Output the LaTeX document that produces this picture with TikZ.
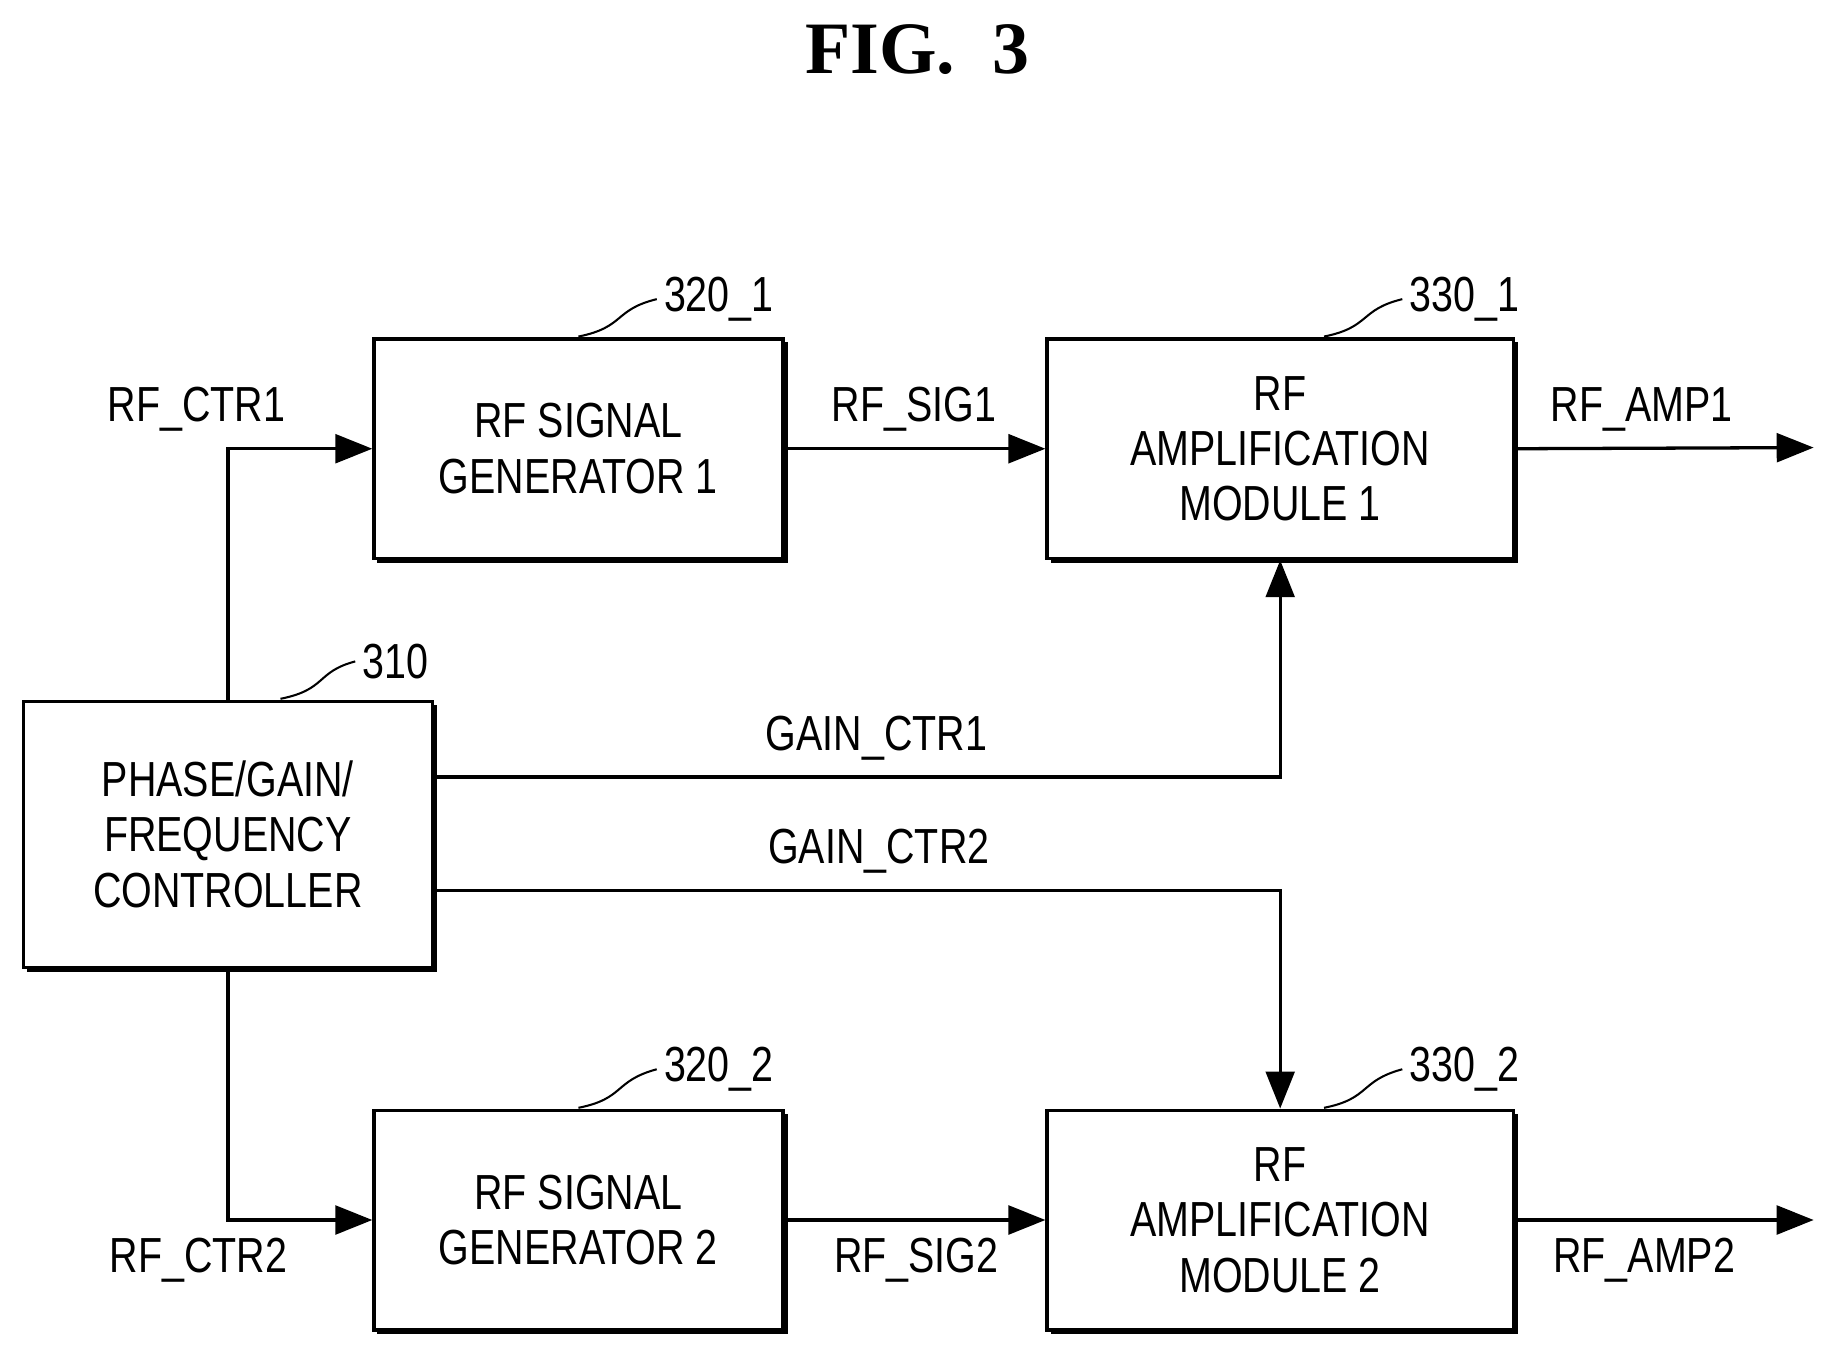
\documentclass[tikz,border=0pt]{standalone}
\usepackage{fontspec}
\setmainfont{Liberation Sans}[FakeStretch=0.8]
\newfontfamily\titlefont{Liberation Serif}
\usetikzlibrary{arrows.meta}
\begin{document}
\begin{tikzpicture}[x=0.02cm,y=-0.02cm,
  box/.style={draw,line width=1.6pt,align=center,inner sep=0,font=\fontsize{24}{27}\selectfont},
  lbl/.style={font=\fontsize{24}{28}\selectfont},
  ln/.style={line width=1.6pt},
  ar/.style={ln,-{Triangle[length=18pt,width=14pt]}}]
\useasboundingbox (0,0) rectangle (1560,1155);
\node[font=\titlefont\bfseries\fontsize{36}{40}\selectfont] (t) at (785,42) {FIG.\ \ 3};
\newcommand\bx[6]{%
 \node[box,minimum width={(#4-#2)*0.02cm},minimum height={(#5-#3)*0.02cm}] (#1) at ({(#2+#4)/2},{(#3+#5)/2}) {#6};
 \draw[line width=2.2pt] (#2+3,#5+2) -- (#4+2,#5+2) -- (#4+2,#3+3);}
\bx{ctl}{20}{600}{370}{828}{PHASE/GAIN/\\FREQUENCY\\CONTROLLER}
\bx{g1}{320}{290}{670}{478}{RF SIGNAL\\GENERATOR 1}
\bx{a1}{896}{290}{1295}{478}{RF\\AMPLIFICATION\\MODULE 1}
\bx{g2}{320}{950}{670}{1138}{RF SIGNAL\\GENERATOR 2}
\bx{a2}{896}{950}{1295}{1138}{RF\\AMPLIFICATION\\MODULE 2}
\coordinate (o1) at (1552,383);
\coordinate (o2) at (1552,1044);
\draw[ar] (ctl.north) |- (g1.west);
\draw[ar] (ctl.south) |- (g2.west);
\draw[ar] (g1) -- (a1);
\draw[ar] (g2) -- (a2);
\draw[ar] (a1.east) -- (o1);
\draw[ar] (a2.east) -- (o2);
\draw[ar] (ctl.east |- 0,665) -| (a1.south);
\draw[ar] (ctl.east |- 0,762) -| (a2.north);
\node[lbl] (l1) at (168,350) {RF\_CTR1};
\node[lbl] (l2) at (170,1078) {RF\_CTR2};
\node[lbl] (l3) at (782,350) {RF\_SIG1};
\node[lbl] (l4) at (784,1078) {RF\_SIG2};
\node[lbl] (l5) at (1405,350) {RF\_AMP1};
\node[lbl] (l6) at (1407,1078) {RF\_AMP2};
\node[lbl] (l7) at (750,632) {GAIN\_CTR1};
\node[lbl] (l8) at (752,728) {GAIN\_CTR2};
\node[lbl,anchor=west] (n310) at (304,566) {310};
\node[lbl,anchor=west] (n321) at (562,256) {320\_1};
\node[lbl,anchor=west] (n331) at (1200,256) {330\_1};
\node[lbl,anchor=west] (n322) at (562,915) {320\_2};
\node[lbl,anchor=west] (n332) at (1200,915) {330\_2};
\draw[line width=1pt] (240,598) .. controls (280,590) and (270,575) .. (n310.west);
\draw[line width=1pt] (495,288) .. controls (535,280) and (525,265) .. (n321.west);
\draw[line width=1pt] (1133,288) .. controls (1173,280) and (1163,265) .. (n331.west);
\draw[line width=1pt] (495,948) .. controls (535,940) and (525,925) .. (n322.west);
\draw[line width=1pt] (1133,948) .. controls (1173,940) and (1163,925) .. (n332.west);
\end{tikzpicture}
\end{document}
